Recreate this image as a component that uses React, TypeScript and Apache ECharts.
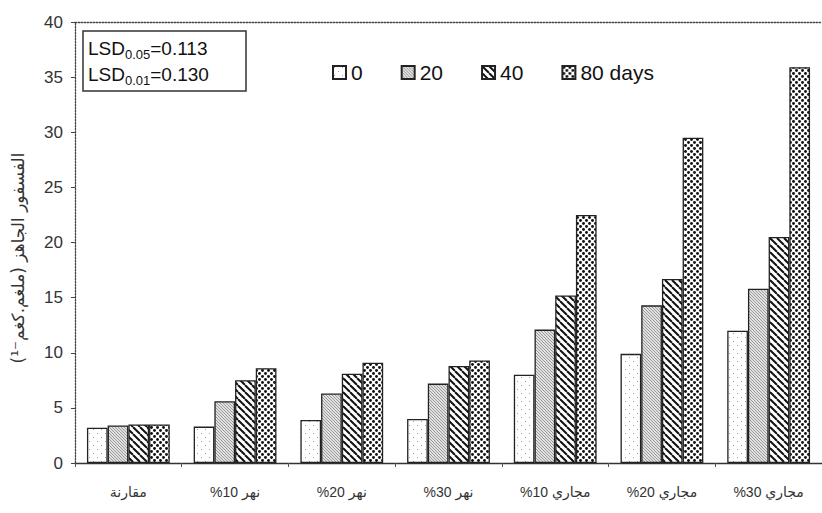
import React, { useEffect, useRef } from "react";
import * as echarts from "echarts";

const categories = ["مقارنة", "%10 نهر", "%20 نهر", "%30 نهر", "%10 مجاري", "%20 مجاري", "%30 مجاري"];
const seriesNames = ["0", "20", "40", "80 days"];
const days0 = [3.2, 3.3, 3.9, 4.0, 8.0, 9.9, 12.0];
const days20 = [3.4, 5.6, 6.3, 7.2, 12.1, 14.3, 15.8];
const days40 = [3.5, 7.5, 8.1, 8.8, 15.2, 16.7, 20.5];
const days80 = [3.5, 8.6, 9.1, 9.3, 22.5, 29.5, 35.9];
const yMin = 0;
const yMax = 40;
const yInterval = 5;
const yAxisTitle = "الفسفور الجاهز (ملغم.كغم⁻¹)";
const lsdLines = [
  { sub: "0.05", val: "=0.113" },
  { sub: "0.01", val: "=0.130" },
];

const FONT = "'Liberation Sans', Arial, 'DejaVu Sans', sans-serif";

function makeCanvas(size: number, draw: (ctx: CanvasRenderingContext2D) => void) {
  const c = document.createElement("canvas");
  c.width = size;
  c.height = size;
  const ctx = c.getContext("2d")!;
  draw(ctx);
  return c;
}

function patterns() {
  const p0 = makeCanvas(8, (ctx) => {
    ctx.fillStyle = "#ffffff";
    ctx.fillRect(0, 0, 8, 8);
    ctx.fillStyle = "#a0a0a0";
    ctx.fillRect(1, 1, 1, 1);
    ctx.fillRect(5, 5, 1, 1);
  });
  const p20 = makeCanvas(3, (ctx) => {
    ctx.fillStyle = "#e0e0e0";
    ctx.fillRect(0, 0, 3, 3);
    ctx.fillStyle = "#9c9c9c";
    ctx.fillRect(0, 0, 1, 1);
    ctx.fillRect(1, 1, 1, 1);
    ctx.fillRect(2, 2, 1, 1);
  });
  const p40 = makeCanvas(7, (ctx) => {
    ctx.fillStyle = "#ffffff";
    ctx.fillRect(0, 0, 7, 7);
    ctx.strokeStyle = "#111111";
    ctx.lineWidth = 2;
    for (const x0 of [-7, 0, 7]) {
      ctx.beginPath();
      ctx.moveTo(x0, 0);
      ctx.lineTo(x0 + 7, 7);
      ctx.stroke();
    }
  });
  const p80 = makeCanvas(6, (ctx) => {
    ctx.fillStyle = "#ffffff";
    ctx.fillRect(0, 0, 6, 6);
    ctx.fillStyle = "#111111";
    for (const [cx, cy] of [[1.5, 1.5], [4.5, 4.5], [-1.5, 4.5], [4.5, -1.5], [7.5, 4.5], [4.5, 7.5]]) {
      ctx.beginPath();
      ctx.arc(cx, cy, 1.45, 0, Math.PI * 2);
      ctx.fill();
    }
  });
  return [p0, p20, p40, p80];
}

export default function App() {
  const ref = useRef<HTMLDivElement>(null);
  useEffect(() => {
    if (!ref.current) return;
    const chart = echarts.init(ref.current, null, { renderer: "svg" });
    const pats = patterns();
    const dataSets = [days0, days20, days40, days80];
    const series = dataSets.map((d, i) => ({
      name: seriesNames[i],
      type: "bar",
      data: d,
      barWidth: 20.7,
      barGap: "0%",
      itemStyle: {
        color: { image: pats[i], repeat: "repeat" } as any,
        borderColor: "#222",
        borderWidth: 1.3,
      },
    }));
    chart.setOption({
      animation: false,
      backgroundColor: "#ffffff",
      textStyle: { fontFamily: FONT },
      grid: { left: 75, top: 22, width: 777, height: 441 },
      legend: {
        left: 327,
        top: 57,
        itemWidth: 13,
        itemHeight: 13,
        itemGap: 38,
        icon: "rect",
        textStyle: { fontSize: 21, color: "#111", fontFamily: FONT },
        data: seriesNames,
      },
      xAxis: [
        {
          type: "category",
          data: categories,
          axisLine: { lineStyle: { color: "#333", width: 1.3 } },
          axisTick: { show: true, length: 4, lineStyle: { color: "#555" } },
          axisLabel: { fontSize: 14, color: "#333", margin: 22, fontFamily: FONT },
        },
        {
          type: "category",
          position: "top",
          data: categories,
          axisLine: { lineStyle: { color: "#444", width: 1.3, type: [1.5, 1.5] } },
          axisTick: { show: false },
          axisLabel: { show: false },
        },
      ],
      yAxis: {
        type: "value",
        min: yMin,
        max: yMax,
        interval: yInterval,
        axisLine: { show: true, lineStyle: { color: "#444", width: 1.3, type: [1.5, 1.5] } },
        axisTick: { show: true, length: 4, lineStyle: { color: "#444" } },
        axisLabel: { fontSize: 17, color: "#333", margin: 12, fontFamily: FONT },
        splitLine: { show: false },
      },
      series,
      graphic: [
        {
          type: "text",
          x: 18,
          y: 258,
          rotation: Math.PI / 2,
          style: {
            text: yAxisTitle,
            fontSize: 17,
            fill: "#333",
            fontFamily: "'DejaVu Sans', sans-serif",
            align: "center",
            verticalAlign: "middle",
          },
        },
        {
          type: "rect",
          shape: { x: 83, y: 31, width: 163, height: 60 },
          style: { fill: "#ffffff", stroke: "#333", lineWidth: 1.5 },
          z: 10,
        },
        ...lsdLines.map((l, i) => ({
          type: "text",
          x: 88,
          y: 47 + i * 26,
          z: 11,
          style: {
            text: `{a|LSD}{b|${l.sub}}{a|${l.val}}`,
            verticalAlign: "middle",
            rich: {
              a: { fontSize: 19, fill: "#111", fontFamily: FONT, verticalAlign: "bottom", lineHeight: 22 },
              b: { fontSize: 13, fill: "#111", fontFamily: FONT, verticalAlign: "bottom", lineHeight: 22, padding: [0, 0, -3, 0] },
            },
          },
        })),
      ],
    } as any);
    return () => chart.dispose();
  }, []);
  return (
    <div
      ref={ref}
      style={{ position: "fixed", left: 0, top: 0, width: 822, height: 513, background: "#fff" }}
    />
  );
}
